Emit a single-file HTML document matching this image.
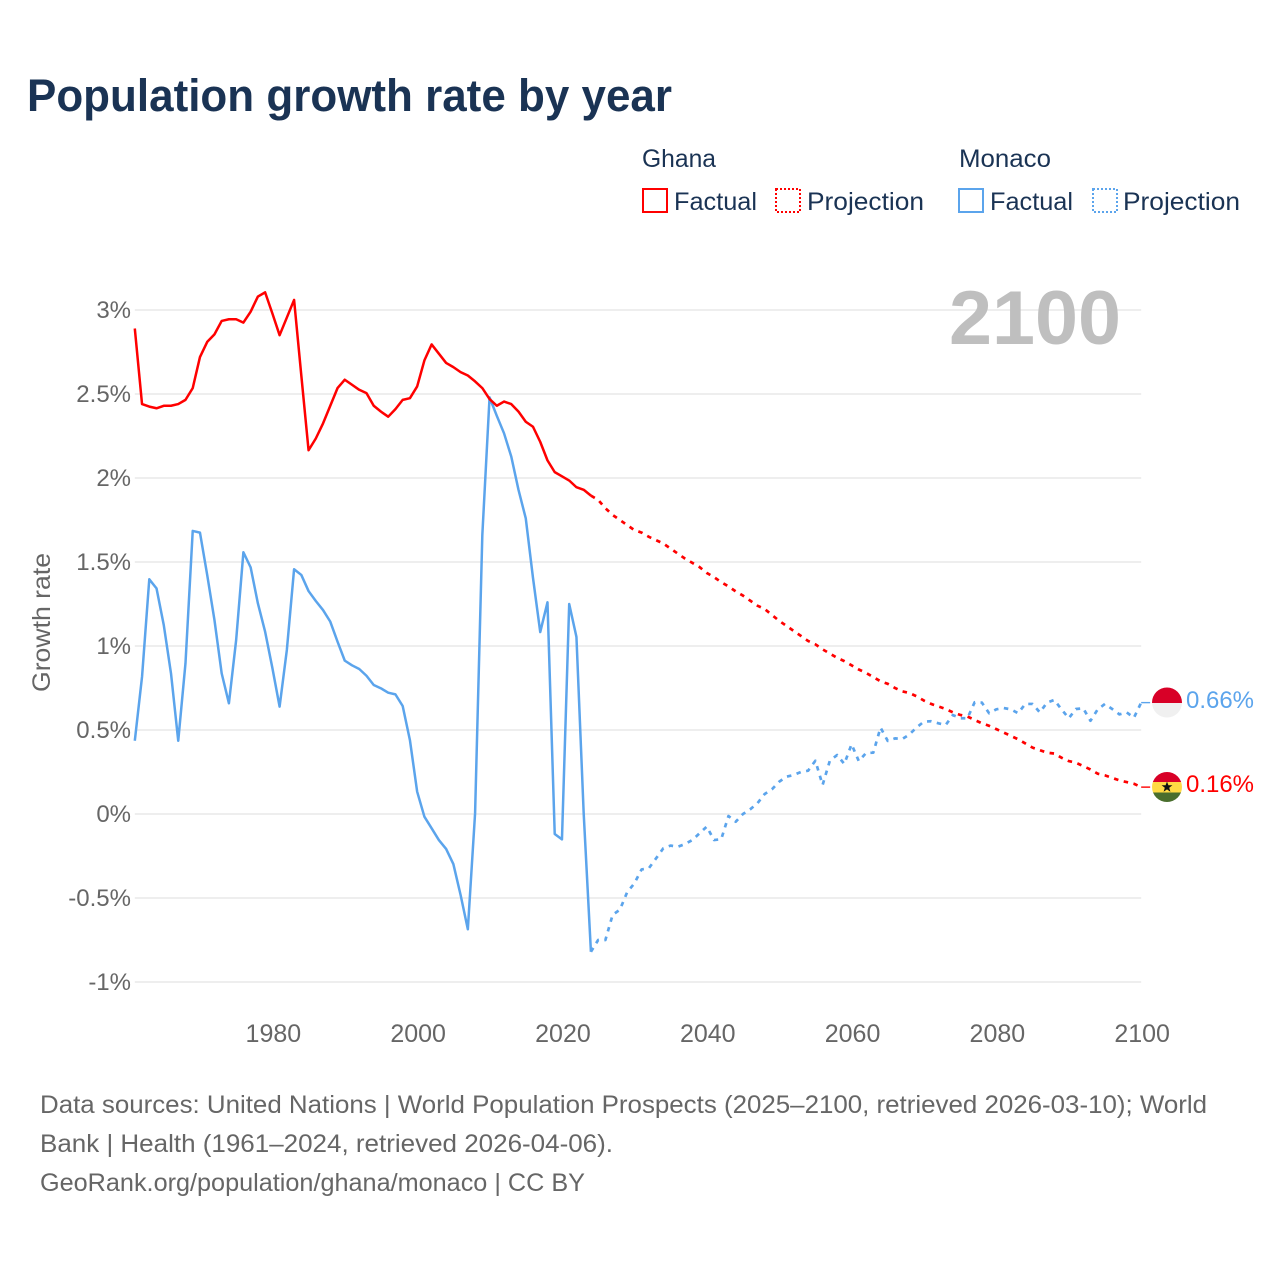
<!DOCTYPE html>
<html lang="en">
<head>
<meta charset="utf-8">
<title>Population growth rate by year</title>
<style>
html,body{margin:0;padding:0;background:#fff;width:1280px;height:1280px;overflow:hidden}
svg{display:block}
text{font-family:"Liberation Sans",Arial,sans-serif}
</style>
</head>
<body>
<svg id="chart" xmlns="http://www.w3.org/2000/svg" width="1280" height="1280" viewBox="0 0 1280 1280">
  <rect x="0" y="0" width="1280" height="1280" fill="#fff"/>
  <text x="27" y="111" font-size="45" font-weight="700" fill="#1a3354" textLength="645" lengthAdjust="spacingAndGlyphs">Population growth rate by year</text>

  <g font-size="25" fill="#1a3354">
    <text x="642" y="167" textLength="74" lengthAdjust="spacingAndGlyphs">Ghana</text>
    <text x="959" y="167" textLength="92" lengthAdjust="spacingAndGlyphs">Monaco</text>
    <g>
      <rect x="643" y="189" width="24" height="23" fill="none" stroke="#ff0000" stroke-width="2"/>
      <text x="674" y="210" textLength="83" lengthAdjust="spacingAndGlyphs">Factual</text>
    </g>
    <g>
      <rect x="776" y="189" width="24" height="23" fill="none" stroke="#ff0000" stroke-width="2" stroke-dasharray="2 2"/>
      <text x="807" y="210" textLength="117" lengthAdjust="spacingAndGlyphs">Projection</text>
    </g>
    <g>
      <rect x="959" y="189" width="24" height="23" fill="none" stroke="#5ba4ec" stroke-width="2"/>
      <text x="990" y="210" textLength="83" lengthAdjust="spacingAndGlyphs">Factual</text>
    </g>
    <g>
      <rect x="1093" y="189" width="24" height="23" fill="none" stroke="#5ba4ec" stroke-width="2" stroke-dasharray="2 2"/>
      <text x="1123" y="210" textLength="117" lengthAdjust="spacingAndGlyphs">Projection</text>
    </g>
  </g>

  <g id="grid"></g>
  <g id="yticks" font-size="24" fill="#666" text-anchor="end"></g>
  <g id="xticks" font-size="25" fill="#666" text-anchor="middle"></g>

  <text x="949" y="344" font-size="76" font-weight="700" fill="#bfbfbf" textLength="172" lengthAdjust="spacingAndGlyphs">2100</text>
  <text transform="translate(50,692) rotate(-90)" font-size="25" fill="#666" textLength="139" lengthAdjust="spacingAndGlyphs">Growth rate</text>

  <g id="series"></g>

  <defs>
    <clipPath id="flag-clip-monaco"><circle cx="1167" cy="702.5" r="15"/></clipPath>
    <clipPath id="flag-clip-ghana"><circle cx="1167" cy="787" r="15"/></clipPath>
  </defs>
  <g clip-path="url(#flag-clip-monaco)">
    <rect x="1152" y="687" width="30" height="16" fill="#d80027"/>
    <rect x="1152" y="703" width="30" height="16" fill="#f0f0f0"/>
  </g>
  <g clip-path="url(#flag-clip-ghana)">
    <rect x="1152" y="772" width="30" height="10" fill="#d80027"/>
    <rect x="1152" y="782" width="30" height="10.5" fill="#ffda44"/>
    <rect x="1152" y="792.5" width="30" height="10" fill="#496e2d"/>
    <polygon points="1167,781.5 1168.4,785.3 1172.4,785.3 1169.2,787.8 1170.4,791.7 1167,789.4 1163.6,791.7 1164.8,787.8 1161.6,785.3 1165.6,785.3" fill="#111"/>
  </g>
  <text x="1186" y="708" font-size="24.5" fill="#5ba4ec" textLength="68" lengthAdjust="spacingAndGlyphs">0.66%</text>
  <text x="1186" y="792" font-size="24.5" fill="#ff0000" textLength="68" lengthAdjust="spacingAndGlyphs">0.16%</text>

  <g font-size="25" fill="#666">
    <text x="40" y="1113" textLength="1167" lengthAdjust="spacingAndGlyphs">Data sources: United Nations | World Population Prospects (2025–2100, retrieved 2026-03-10); World</text>
    <text x="40" y="1152" textLength="573" lengthAdjust="spacingAndGlyphs">Bank | Health (1961–2024, retrieved 2026-04-06).</text>
    <text x="40" y="1191" textLength="545" lengthAdjust="spacingAndGlyphs">GeoRank.org/population/ghana/monaco | CC BY</text>
  </g>
</svg>
<script>
const factualYears = [1961,1962,1963,1964,1965,1966,1967,1968,1969,1970,1971,1972,1973,1974,1975,1976,1977,1978,1979,1980,1981,1982,1983,1984,1985,1986,1987,1988,1989,1990,1991,1992,1993,1994,1995,1996,1997,1998,1999,2000,2001,2002,2003,2004,2005,2006,2007,2008,2009,2010,2011,2012,2013,2014,2015,2016,2017,2018,2019,2020,2021,2022,2023,2024];
const projectionYears = [2024,2025,2026,2027,2028,2029,2030,2031,2032,2033,2034,2035,2036,2037,2038,2039,2040,2041,2042,2043,2044,2045,2046,2047,2048,2049,2050,2051,2052,2053,2054,2055,2056,2057,2058,2059,2060,2061,2062,2063,2064,2065,2066,2067,2068,2069,2070,2071,2072,2073,2074,2075,2076,2077,2078,2079,2080,2081,2082,2083,2084,2085,2086,2087,2088,2089,2090,2091,2092,2093,2094,2095,2096,2097,2098,2099,2100];
const ghanaFactual = [2.89,2.44,2.425,2.415,2.43,2.43,2.44,2.465,2.535,2.72,2.81,2.855,2.935,2.945,2.945,2.925,2.99,3.08,3.105,2.98,2.85,2.955,3.06,2.61,2.165,2.235,2.325,2.43,2.535,2.585,2.555,2.525,2.505,2.43,2.395,2.365,2.41,2.465,2.475,2.545,2.70,2.795,2.74,2.685,2.66,2.63,2.61,2.575,2.535,2.47,2.43,2.455,2.44,2.395,2.335,2.305,2.215,2.105,2.035,2.01,1.985,1.945,1.93,1.895];
const ghanaProjection = [1.895,1.87,1.82,1.78,1.75,1.72,1.69,1.675,1.65,1.63,1.61,1.58,1.55,1.52,1.495,1.47,1.435,1.41,1.38,1.355,1.325,1.30,1.27,1.24,1.22,1.185,1.15,1.12,1.09,1.06,1.03,1.01,0.98,0.955,0.93,0.91,0.885,0.86,0.84,0.815,0.79,0.775,0.75,0.73,0.72,0.70,0.675,0.655,0.64,0.625,0.605,0.59,0.58,0.56,0.54,0.525,0.505,0.485,0.465,0.445,0.42,0.395,0.38,0.365,0.36,0.335,0.315,0.305,0.285,0.265,0.24,0.23,0.215,0.20,0.19,0.18,0.16];
const monacoFactual = [0.436,0.817,1.397,1.343,1.125,0.837,0.436,0.897,1.685,1.675,1.423,1.155,0.837,0.659,1.036,1.558,1.468,1.254,1.085,0.87,0.639,0.976,1.457,1.423,1.327,1.268,1.214,1.145,1.026,0.913,0.885,0.863,0.823,0.768,0.748,0.722,0.712,0.643,0.44,0.133,-0.016,-0.085,-0.155,-0.208,-0.298,-0.482,-0.686,0.004,1.66,2.48,2.37,2.266,2.127,1.929,1.76,1.405,1.083,1.26,-0.119,-0.151,1.25,1.054,0.005,-0.82];
const monacoProjection = [-0.82,-0.75,-0.75,-0.60,-0.57,-0.466,-0.413,-0.33,-0.323,-0.264,-0.204,-0.188,-0.195,-0.179,-0.155,-0.115,-0.075,-0.155,-0.15,-0.012,-0.046,0,0.028,0.064,0.119,0.147,0.192,0.222,0.232,0.25,0.258,0.317,0.173,0.317,0.351,0.298,0.415,0.315,0.363,0.365,0.514,0.435,0.45,0.446,0.474,0.516,0.55,0.552,0.54,0.53,0.589,0.57,0.57,0.665,0.663,0.6,0.623,0.631,0.623,0.6,0.655,0.655,0.605,0.663,0.679,0.623,0.57,0.625,0.629,0.555,0.623,0.655,0.625,0.593,0.605,0.573,0.663];
const yTickValues = [3,2.5,2,1.5,1,0.5,0,-0.5,-1];
const yTickLabels = ["3%","2.5%","2%","1.5%","1%","0.5%","0%","-0.5%","-1%"];
const xTickValues = [1980,2000,2020,2040,2060,2080,2100];
const xTickLabels = ["1980","2000","2020","2040","2060","2080","2100"];

const NS = 'http://www.w3.org/2000/svg';
function xScale(year){ return 134.8 + (year - 1961) * 7.24; }
function yScale(value){ return 814 - value * 168; }
function toPoints(years, values){
  return values.map(function(v, i){ return xScale(years[i]).toFixed(2) + ',' + yScale(v).toFixed(2); }).join(' ');
}

const gridGroup = document.getElementById('grid');
const yTickGroup = document.getElementById('yticks');
const xTickGroup = document.getElementById('xticks');
const seriesGroup = document.getElementById('series');

yTickValues.forEach(function(v, i){
  const line = document.createElementNS(NS, 'line');
  
  
  line.setAttribute('x1', xScale(1961));
  line.setAttribute('x2', xScale(2100));
  line.setAttribute('y1', yScale(v));
  line.setAttribute('y2', yScale(v));
  line.setAttribute('stroke', '#e8e8e8');
  line.setAttribute('stroke-width', '1.4');
  gridGroup.appendChild(line);

  const label = document.createElementNS(NS, 'text');
  
  
  label.setAttribute('x', 131);
  label.setAttribute('y', yScale(v) + 8);
  label.textContent = yTickLabels[i];
  yTickGroup.appendChild(label);
});

xTickValues.forEach(function(year, i){
  const label = document.createElementNS(NS, 'text');
  
  
  label.setAttribute('x', xScale(year) + 1);
  label.setAttribute('y', 1042);
  label.textContent = xTickLabels[i];
  xTickGroup.appendChild(label);
});

function addSeries(name, years, values, color, dashed){
  const line = document.createElementNS(NS, 'polyline');
  
  
  line.setAttribute('points', toPoints(years, values));
  line.setAttribute('fill', 'none');
  line.setAttribute('stroke', color);
  line.setAttribute('stroke-width', dashed ? '2.7' : '2.5');
  line.setAttribute('stroke-linejoin', 'round');
  if (dashed) line.setAttribute('stroke-dasharray', '4.5 5.5');
  seriesGroup.appendChild(line);
}
function addConnector(name, years, values, color){
  const n = values.length - 1;
  const line = document.createElementNS(NS, 'line');
  
  
  line.setAttribute('x1', xScale(years[n]));
  line.setAttribute('x2', xScale(years[n]) + 9);
  line.setAttribute('y1', yScale(values[n]));
  line.setAttribute('y2', yScale(values[n]));
  line.setAttribute('stroke', color);
  line.setAttribute('stroke-width', '1.4');
  seriesGroup.appendChild(line);
}
addSeries('monaco-factual-line', factualYears, monacoFactual, '#5ba4ec', false);
addSeries('ghana-factual-line', factualYears, ghanaFactual, '#ff0000', false);
addSeries('monaco-projection-line', projectionYears, monacoProjection, '#5ba4ec', true);
addSeries('ghana-projection-line', projectionYears, ghanaProjection, '#ff0000', true);
addConnector('monaco-flag-connector', projectionYears, monacoProjection, '#5ba4ec');
addConnector('ghana-flag-connector', projectionYears, ghanaProjection, '#ff0000');
</script>
</body>
</html>
